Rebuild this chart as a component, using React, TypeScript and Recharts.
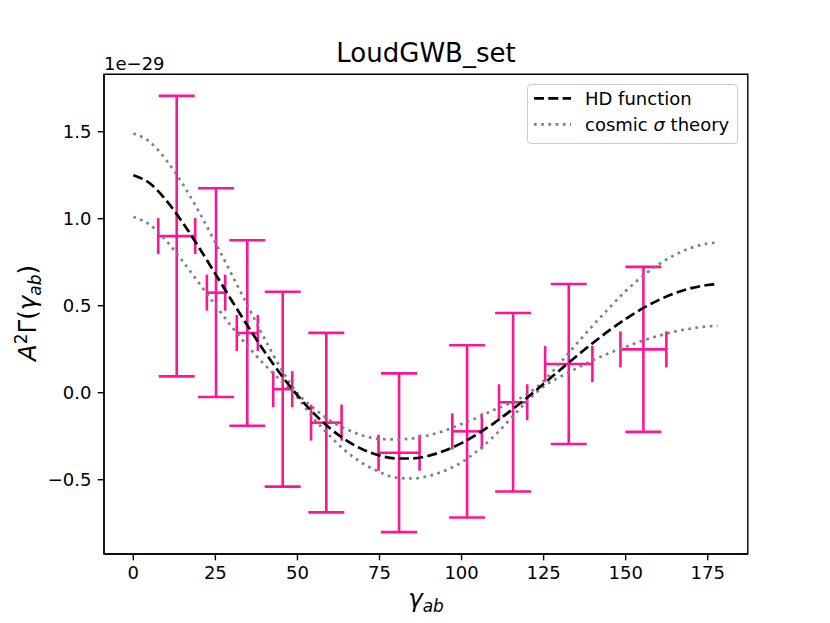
import React from 'react'
import {
  ComposedChart,
  Line,
  Scatter,
  ErrorBar,
  XAxis,
  YAxis,
  ReferenceArea,
  Legend,
} from 'recharts'

// theory curves, values in units of 1e-29
const angles = [
  0, 5, 10, 15, 20, 25, 30, 35, 40, 45, 50, 55, 60, 65, 70, 75, 80, 85, 90,
  95, 100, 105, 110, 115, 120, 125, 130, 135, 140, 145, 150, 155, 160, 165,
  170, 175, 178,
]
const hdValues = [
  1.25, 1.204, 1.106, 0.979, 0.835, 0.683, 0.529, 0.379, 0.236, 0.103, -0.015,
  -0.119, -0.206, -0.275, -0.327, -0.361, -0.378, -0.378, -0.362, -0.332,
  -0.29, -0.236, -0.173, -0.103, -0.028, 0.051, 0.131, 0.21, 0.286, 0.358,
  0.424, 0.483, 0.532, 0.572, 0.601, 0.619, 0.624,
]
const sigmaUpper = [
  1.49, 1.442, 1.338, 1.201, 1.04, 0.863, 0.679, 0.494, 0.311, 0.138, -0.003,
  -0.089, -0.161, -0.21, -0.247, -0.266, -0.268, -0.263, -0.245, -0.217,
  -0.18, -0.141, -0.098, -0.058, -0.008, 0.066, 0.171, 0.28, 0.386, 0.488,
  0.584, 0.668, 0.737, 0.792, 0.833, 0.857, 0.864,
]
const sigmaLower = [
  1.01, 0.966, 0.874, 0.757, 0.63, 0.503, 0.379, 0.264, 0.161, 0.068, -0.027,
  -0.149, -0.251, -0.34, -0.407, -0.456, -0.488, -0.493, -0.479, -0.447,
  -0.4, -0.331, -0.248, -0.148, -0.048, 0.036, 0.091, 0.14, 0.186, 0.228,
  0.264, 0.298, 0.327, 0.352, 0.369, 0.381, 0.384,
]

// binned measurements
const binCenters = [13.22, 25.2, 34.73, 45.52, 58.8, 80.96, 101.68, 115.7, 132.66, 155.4]
const binHalfWidths = [5.63, 2.79, 3.2, 2.9, 4.65, 6.25, 4.5, 4.3, 7.2, 7.0]
const binMeans = [0.9, 0.575, 0.343, 0.02, -0.172, -0.345, -0.222, -0.055, 0.165, 0.249]
const binErrors = [0.806, 0.6, 0.533, 0.56, 0.516, 0.456, 0.495, 0.513, 0.46, 0.474]

const xTicks = [0, 25, 50, 75, 100, 125, 150, 175]
const yTicks = [-0.5, 0, 0.5, 1, 1.5]

const X_DOMAIN: [number, number] = [-8.93, 187.2]
const Y_DOMAIN: [number, number] = [-0.927, 1.83]

const curve = angles.map((x, i) => ({
  x,
  hd: hdValues[i],
  upper: sigmaUpper[i],
  lower: sigmaLower[i],
}))

const points = binCenters.map((x, i) => ({
  x,
  y: binMeans[i],
  xErr: binHalfWidths[i],
  yErr: binErrors[i],
}))

const FONT = '"DejaVu Sans", sans-serif'
const PINK = '#ff1493'
const dashes: Record<string, string> = { hd: '10 4.3', upper: '2.7 4.5' }

function LegendBox({ payload }: { payload?: any[] }) {
  const items = (payload ?? []).filter(
    (it) => it.type !== 'none' && dashes[it.dataKey as string] !== undefined,
  )
  return (
    <svg width={212} height={61} style={{ display: 'block' }}>
      <rect x={0.5} y={0.5} width={210} height={59} rx={3.5} fill="#fff" fillOpacity={0.8} stroke="#cccccc" />
      {items.map((it, i) => (
        <g key={i}>
          <line
            x1={7}
            x2={44}
            y1={14.3 + i * 26}
            y2={14.3 + i * 26}
            stroke={it.color}
            strokeWidth={2.7}
            strokeDasharray={dashes[it.dataKey as string]}
          />
          <text x={58} y={21 + i * 26} fontSize={18} fontFamily={FONT} fill="#000">
            {String(it.value).split('σ').map((part, j, arr) => (
              <React.Fragment key={j}>
                {part}
                {j < arr.length - 1 && <tspan fontStyle="italic">σ</tspan>}
              </React.Fragment>
            ))}
          </text>
        </g>
      ))}
    </svg>
  )
}

export default function App() {
  return (
    <div style={{ position: 'absolute', left: 0, top: 0, width: 830, height: 623, background: '#fff' }}>
      <ComposedChart
        width={830}
        height={623}
        data={curve}
        margin={{ top: 74.3, right: 82.2, bottom: 29, left: 44 }}
      >
        <XAxis
          dataKey="x"
          type="number"
          domain={X_DOMAIN}
          ticks={xTicks}
          interval={0}
          allowDataOverflow
          height={40}
          tickSize={6.3}
          tickMargin={6.3}
          tickFormatter={(v: number) => String(v)}
          axisLine={{ stroke: '#000', strokeWidth: 1.4 }}
          tickLine={{ stroke: '#000', strokeWidth: 1.4 }}
          tick={{ fill: '#000', fontSize: 18, fontFamily: FONT }}
        />
        <YAxis
          type="number"
          domain={Y_DOMAIN}
          ticks={yTicks}
          interval={0}
          allowDataOverflow
          width={60}
          tickSize={6.3}
          tickMargin={6.3}
          tickFormatter={(v: number) => v.toFixed(1).replace('-', '\u2212')}
          axisLine={{ stroke: '#000', strokeWidth: 1.4 }}
          tickLine={{ stroke: '#000', strokeWidth: 1.4 }}
          tick={{ fill: '#000', fontSize: 18, fontFamily: FONT }}
        />
        <Scatter
          data={points}
          dataKey="y"
          legendType="none"
          isAnimationActive={false}
          shape={() => <g />}
        >
          <ErrorBar dataKey="yErr" direction="y" width={18} stroke={PINK} strokeWidth={2.6} isAnimationActive={false} />
          <ErrorBar dataKey="xErr" direction="x" width={18} stroke={PINK} strokeWidth={2.6} isAnimationActive={false} />
        </Scatter>
        <Line
          dataKey="upper"
          name="cosmic σ theory"
          type="monotone"
          stroke="#808080"
          strokeWidth={2.7}
          strokeDasharray={dashes.upper}
          dot={false}
          activeDot={false}
          isAnimationActive={false}
        />
        <Line
          dataKey="lower"
          name="cosmic σ lower"
          type="monotone"
          stroke="#808080"
          strokeWidth={2.7}
          strokeDasharray={dashes.upper}
          dot={false}
          activeDot={false}
          legendType="none"
          isAnimationActive={false}
        />
        <Line
          dataKey="hd"
          name="HD function"
          type="monotone"
          stroke="#000"
          strokeWidth={2.7}
          strokeDasharray={dashes.hd}
          dot={false}
          activeDot={false}
          isAnimationActive={false}
        />
        <ReferenceArea
          x1={X_DOMAIN[0]}
          x2={X_DOMAIN[1]}
          y1={Y_DOMAIN[0]}
          y2={Y_DOMAIN[1]}
          ifOverflow="visible"
          fill="none"
          stroke="#000"
          strokeWidth={1.4}
        />
        <Legend
          layout="horizontal"
          verticalAlign="middle"
          align="center"
          itemSorter={(it: any) => (it.dataKey === 'hd' ? 0 : 1)}
          wrapperStyle={{ left: 527, top: 84, width: 212, height: 61 }}
          content={(props: any) => <LegendBox payload={props.payload} />}
        />
      </ComposedChart>
      <svg
        width={830}
        height={623}
        style={{ position: 'absolute', left: 0, top: 0, pointerEvents: 'none' }}
        fontFamily={FONT}
      >
        <text x={426} y={61.5} textAnchor="middle" fontSize={26}>
          LoudGWB_set
        </text>
        <text x={104} y={70} fontSize={18}>
          1e{'\u2212'}29
        </text>
        <text x={426} y={607} textAnchor="middle" fontSize={24.5}>
          <tspan fontStyle="italic">γ</tspan>
          <tspan fontStyle="italic" fontSize={17} dy={4.5}>
            ab
          </tspan>
        </text>
        <text transform="translate(36,313) rotate(-90)" textAnchor="middle" fontSize={24.5}>
          <tspan fontStyle="italic">A</tspan>
          <tspan fontSize={17} dy={-9.5}>
            2
          </tspan>
          <tspan dy={9.5}>Γ(</tspan>
          <tspan fontStyle="italic">γ</tspan>
          <tspan fontStyle="italic" fontSize={17} dy={4.5}>
            ab
          </tspan>
          <tspan dy={-4.5}>)</tspan>
        </text>
      </svg>
    </div>
  )
}
